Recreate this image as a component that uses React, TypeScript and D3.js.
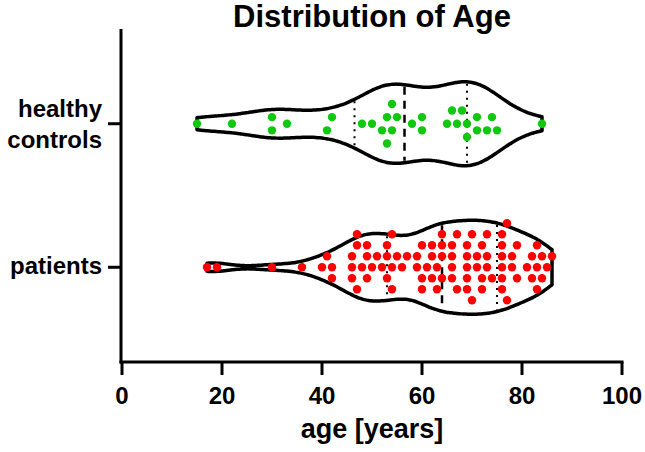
import React from "react";
import * as d3 from "d3";

const title = "Distribution of Age";
const xLabel = "age [years]";
const categories = ["healthy controls", "patients"];
const xTicks = [0, 20, 40, 60, 80, 100];

const healthyAges = [
  15, 22, 30, 30, 33, 41, 42, 48, 50, 52, 53, 53, 54, 54, 55, 58, 60, 60, 65, 66,
  67, 68, 69, 69, 71, 71, 73, 74, 75, 84,
];

const patientAges = [
  17, 19, 30, 36, 40, 41, 42, 42, 46, 46, 46, 47, 47, 47, 48, 49, 49, 49, 50, 51,
  52, 53, 53, 53, 54, 54, 54, 55, 56, 57, 59, 59, 60, 60, 60, 61, 62, 62, 62, 63,
  63, 64, 64, 64, 64, 66, 66, 66, 66, 67, 67, 69, 69, 69, 69, 69, 70, 70, 71, 71,
  72, 72, 72, 73, 73, 73, 74, 76, 76, 76, 76, 76, 76, 77, 77, 78, 78, 79, 79, 81,
  82, 82, 83, 83, 83, 84, 84, 85, 86,
];

const W = 645;
const H = 452;
const FONT = "'Liberation Sans', Arial, Helvetica, sans-serif";

const x = d3.scaleLinear().domain([0, 100]).range([122, 622]);
const y = d3.scalePoint<string>().domain(categories).range([29, 362]).padding(0.66);

function kde(values: number[], bw: number, at: number) {
  return d3.mean(values, (v) => Math.exp(-0.5 * ((at - v) / bw) ** 2)) as number;
}

function prismQuantile(sorted: number[], p: number) {
  const n = sorted.length;
  const pos = (n + 1) * p;
  const lo = Math.floor(pos);
  const frac = pos - lo;
  if (lo < 1) return sorted[0];
  if (lo >= n) return sorted[n - 1];
  return sorted[lo - 1] + frac * (sorted[lo] - sorted[lo - 1]);
}

function swarm(values: number[], step: number, minDist: number, recenter: boolean) {
  const pts = values
    .slice()
    .sort((a, b) => a - b)
    .map((v) => ({ v, px: x(v), dy: 0 }));
  const placed: { v: number; px: number; dy: number }[] = [];
  const cands: number[] = [0];
  for (let k = 1; k < 20; k++) cands.push(-k, k);
  for (const p of pts) {
    for (const k of cands) {
      const dy = k * step;
      if (placed.every((q) => Math.hypot(q.px - p.px, q.dy - dy) >= minDist - 1e-6)) {
        p.dy = dy;
        break;
      }
    }
    placed.push(p);
  }
  if (recenter) {
    let start = 0;
    for (let i = 1; i <= placed.length; i++) {
      if (i === placed.length || placed[i].px - placed[i - 1].px >= minDist) {
        const cl = placed.slice(start, i);
        const mn = d3.min(cl, (c) => c.dy) as number;
        const mx = d3.max(cl, (c) => c.dy) as number;
        const shift = (mn + mx) / 2;
        cl.forEach((c) => (c.dy -= shift));
        start = i;
      }
    }
  }
  return placed;
}

type Group = {
  name: string;
  values: number[];
  color: string;
  bw: number;
  maxHW: number;
  step: number;
  recenter: boolean;
};

const groups: Group[] = [
  { name: categories[0], values: healthyAges, color: "#10c810", bw: 5.3, maxHW: 42, step: 6.6, recenter: true },
  { name: categories[1], values: patientAges, color: "#ff0000", bw: 3.6, maxHW: 47, step: 11, recenter: false },
];

function Violin({ g }: { g: Group }) {
  const cy = y(g.name) as number;
  const sorted = g.values.slice().sort((a, b) => a - b);
  const lo = sorted[0];
  const hi = sorted[sorted.length - 1];
  const xs = d3.range(0, 161).map((i) => lo + ((hi - lo) * i) / 160);
  const dens = xs.map((v) => kde(g.values, g.bw, v));
  const maxD = d3.max(dens) as number;
  const hw = (v: number) => (kde(g.values, g.bw, v) / maxD) * g.maxHW;
  const data = xs.map((v, i) => ({ v, w: (dens[i] / maxD) * g.maxHW }));
  const area = d3
    .area<{ v: number; w: number }>()
    .x((d) => x(d.v))
    .y0((d) => cy - d.w)
    .y1((d) => cy + d.w)
    .curve(d3.curveBasis);
  const q1 = prismQuantile(sorted, 0.25);
  const med = prismQuantile(sorted, 0.5);
  const q3 = prismQuantile(sorted, 0.75);
  const pts = swarm(g.values, g.step, 9.4, g.recenter);
  return (
    <g>
      <path d={area(data) as string} fill="#fff" stroke="#000" strokeWidth={3.5} strokeLinejoin="round" />
      {[q1, q3].map((q, i) => (
        <line
          key={"q" + i}
          x1={x(q)}
          x2={x(q)}
          y1={cy - hw(q) + 2}
          y2={cy + hw(q) - 2}
          stroke="#000"
          strokeWidth={2}
          strokeDasharray="2,5"
        />
      ))}
      <line
        x1={x(med)}
        x2={x(med)}
        y1={cy - hw(med) + 2}
        y2={cy + hw(med) - 2}
        stroke="#000"
        strokeWidth={2.5}
        strokeDasharray="8,6"
      />
      {pts.map((p, i) => (
        <circle key={i} cx={p.px} cy={cy + p.dy} r={4.2} fill={g.color} />
      ))}
    </g>
  );
}

export default function App() {
  const [x0, x1] = x.range();
  const [y0, y1] = y.range();
  return (
    <svg
      width={W}
      height={H}
      style={{ position: "absolute", left: 0, top: 0, background: "#fff" }}
      fontFamily={FONT}
      fontWeight="bold"
    >
      <rect width={W} height={H} fill="#fff" />
      <text x={(x0 + x1) / 2} y={27} textAnchor="middle" fontSize={31}>
        {title}
      </text>
      {groups.map((g) => (
        <Violin key={g.name} g={g} />
      ))}
      <line x1={x0 - 1} x2={x0 - 1} y1={y0} y2={y1 + 1.5} stroke="#000" strokeWidth={3} />
      <line x1={x0 - 2.5} x2={x1 + 1.5} y1={y1} y2={y1} stroke="#000" strokeWidth={3} />
      {xTicks.map((t) => (
        <g key={t}>
          <line x1={x(t)} x2={x(t)} y1={y1} y2={y1 + 13} stroke="#000" strokeWidth={3} />
          <text x={x(t)} y={404} textAnchor="middle" fontSize={24}>
            {t}
          </text>
        </g>
      ))}
      {categories.map((c) => (
        <line key={c} x1={x0 - 14} x2={x0 - 1} y1={y(c)} y2={y(c)} stroke="#000" strokeWidth={3} />
      ))}
      <text textAnchor="end" fontSize={24}>
        <tspan x={102} y={(y(categories[0]) as number) - 7}>healthy</tspan>
        <tspan x={102} y={(y(categories[0]) as number) + 24}>controls</tspan>
      </text>
      <text x={102} y={(y(categories[1]) as number) + 7} textAnchor="end" fontSize={24}>
        {categories[1]}
      </text>
      <text x={(x0 + x1) / 2} y={438} textAnchor="middle" fontSize={27}>
        {xLabel}
      </text>
    </svg>
  );
}
